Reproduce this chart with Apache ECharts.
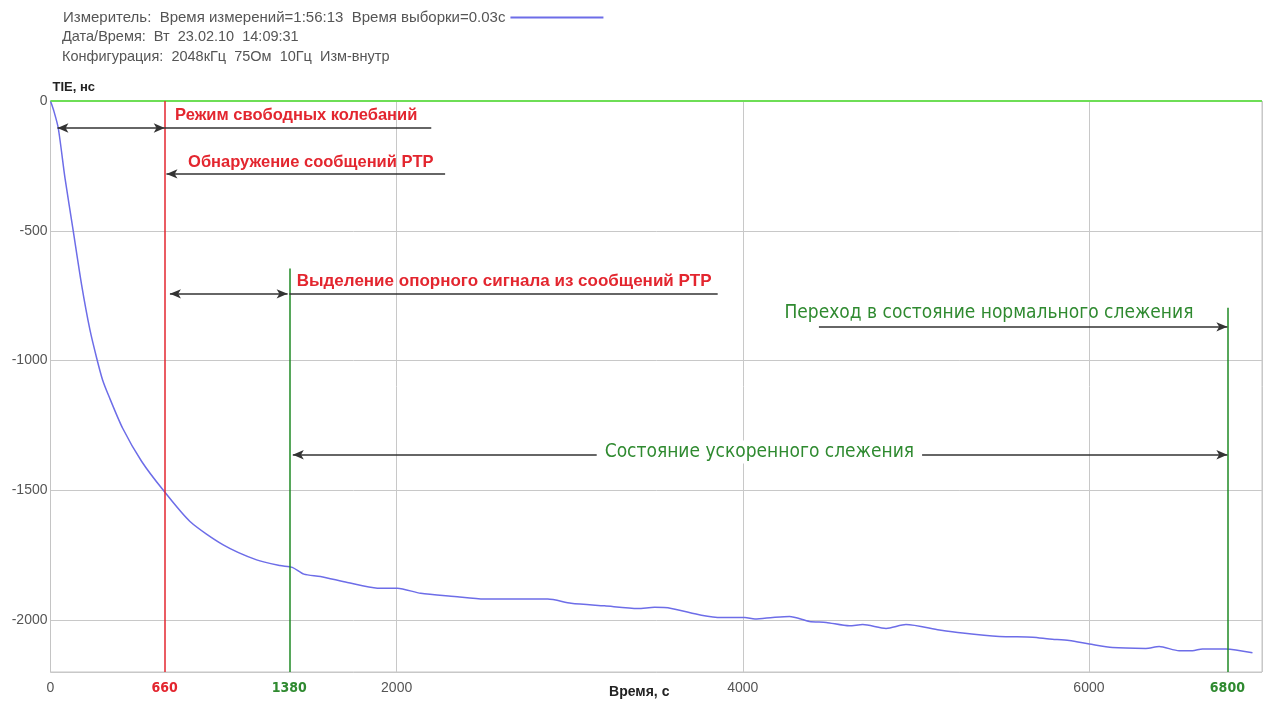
<!DOCTYPE html>
<html>
<head>
<meta charset="utf-8">
<script src="https://cdn.jsdelivr.net/npm/echarts@6/dist/echarts.min.js"></script>
<style>
html,body{margin:0;padding:0;background:#fff;}
#chart{width:1273px;height:704px;}
</style>
</head>
<body>
<div id="chart"></div>
<script>
// ---- data ----
const headerLines = [
  'Дата/Время:  Вт  23.02.10  14:09:31',
  'Конфигурация:  2048кГц  75Ом  10Гц  Изм-внутр'
];
const seriesName = 'Измеритель:  Время измерений=1:56:13  Время выборки=0.03с';
const timeSec = [0, 20, 45, 84, 132, 180, 228, 267, 301, 334, 417, 527, 652, 806, 998, 1191, 1326, 1397, 1464, 1560, 1715, 1889, 2004, 2139, 2333, 2506, 2873, 3008, 3201, 3394, 3490, 3587, 3761, 3877, 4012, 4070, 4173, 4270, 4385, 4482, 4616, 4693, 4828, 4943, 5136, 5270, 5482, 5675, 5771, 5886, 6002, 6136, 6329, 6406, 6521, 6598, 6656, 6791, 6945];
const tieNs = [0, -40, -105, -298, -503, -709, -882, -991, -1075, -1132, -1261, -1389, -1500, -1620, -1710, -1768, -1790, -1797, -1823, -1832, -1855, -1877, -1877, -1897, -1909, -1919, -1919, -1935, -1945, -1955, -1951, -1955, -1981, -1990, -1990, -1996, -1990, -1986, -2005, -2009, -2022, -2017, -2032, -2017, -2038, -2050, -2063, -2066, -2073, -2079, -2092, -2106, -2109, -2102, -2118, -2118, -2111, -2111, -2126];
const xTickLabels = [0, 660, 1380, 2000, 4000, 6000, 6800];
const redMarks = [660];
const greenMarks = [1380, 6800];
const greenMarkTops = [-645, -797];
const annotationTexts = ['Режим свободных колебаний', 'Обнаружение сообщений PTP', 'Выделение опорного сигнала из сообщений PTP', 'Переход в состояние нормального слежения', 'Состояние ускоренного слежения'];
const annotationPos = [[720, -54], [795, -235], [1423, -693], [4241, -817], [4096, -1352]];
const arrowLevels = [-104, -281, -743, -870, -1363];

// ---- chart ----
const chart = echarts.init(document.getElementById('chart'), null, {renderer: 'canvas'});
const RED = '#e3262f', GREEN = '#2f8a30', GREEN_LINE = '#1f8a24', GRAY_TXT = '#555';
const FONT = "'Liberation Sans', Arial, sans-serif";
const NARROW = "'DejaVu Sans Condensed', 'Liberation Sans', sans-serif";
const lineStyleArrow = {color: '#333', width: 1.5, type: 'solid'};

function seg(x1, y1, x2, y2, s1, s2, style) {
  return [
    {coord: [x1, y1], symbol: s1, lineStyle: style || lineStyleArrow},
    {coord: [x2, y2], symbol: s2}
  ];
}

const markLines = [
  [{coord: [0, 0], symbol: 'none', lineStyle: {color: '#6ede56', width: 2, type: 'solid'}}, {coord: [7000, 0], symbol: 'none'}],
  [{coord: [redMarks[0], 0], symbol: 'none', lineStyle: {color: RED, width: 1.5, type: 'solid'}}, {coord: [redMarks[0], -2200], symbol: 'none'}],
  [{coord: [greenMarks[0], greenMarkTops[0]], symbol: 'none', lineStyle: {color: GREEN_LINE, width: 1.5, type: 'solid'}}, {coord: [greenMarks[0], -2200], symbol: 'none'}],
  [{coord: [greenMarks[1], greenMarkTops[1]], symbol: 'none', lineStyle: {color: GREEN_LINE, width: 1.5, type: 'solid'}}, {coord: [greenMarks[1], -2200], symbol: 'none'}],
  seg(40, arrowLevels[0], redMarks[0], arrowLevels[0], 'arrow', 'arrow'),
  seg(redMarks[0], arrowLevels[0], 2200, arrowLevels[0], 'none', 'none'),
  seg(redMarks[0] + 10, arrowLevels[1], 2280, arrowLevels[1], 'arrow', 'none'),
  seg(redMarks[0] + 30, arrowLevels[2], greenMarks[0] - 10, arrowLevels[2], 'arrow', 'arrow'),
  seg(greenMarks[0], arrowLevels[2], 3855, arrowLevels[2], 'none', 'none'),
  seg(4440, arrowLevels[3], greenMarks[1], arrowLevels[3], 'none', 'arrow'),
  seg(greenMarks[0] + 20, arrowLevels[4], greenMarks[1], arrowLevels[4], 'arrow', 'arrow')
];

const redSizes = [16.5, 16.5, 17];
const markPoints = annotationTexts.map((t, i) => {
  const red = i < 3;
  const centered = i === 4;
  return {
    coord: annotationPos[i],
    symbol: 'circle',
    symbolSize: 0,
    label: {
      show: true,
      formatter: t,
      position: centered ? 'inside' : 'right',
      distance: 0,
      color: red ? RED : GREEN,
      fontFamily: red ? FONT : NARROW,
      fontWeight: red ? 'bold' : 'normal',
      fontSize: red ? redSizes[i] : 19,
      backgroundColor: centered ? '#fff' : 'transparent',
      padding: centered ? [2, 8] : 0
    }
  };
});

const option = {
  animation: false,
  backgroundColor: '#fff',
  textStyle: {fontFamily: FONT},
  legend: {
    left: 58, top: 5,
    align: 'right',
    icon: 'rect', itemWidth: 93, itemHeight: 2, itemGap: 8,
    textStyle: {color: GRAY_TXT, fontSize: 15, fontFamily: FONT},
    data: [seriesName]
  },
  graphic: headerLines.map((t, i) => ({
    type: 'text', left: 62, top: 29 + i * 20,
    style: {text: t, fill: GRAY_TXT, font: "14.5px 'Liberation Sans', Arial, sans-serif"}
  })),
  grid: {left: 50.5, right: 11, top: 101, bottom: 32, show: true, borderColor: '#c4c4c4', borderWidth: 1, containLabel: false, outerBoundsMode: 'none'},
  xAxis: {
    type: 'value', min: 0, max: 7000, interval: 2000,
    name: 'Время, с', nameLocation: 'middle', nameGap: 13, nameMoveOverlap: false,
    nameTextStyle: {fontWeight: 'bold', fontSize: 14, color: '#222', padding: [0, 34, 0, 0]},
    axisLine: {show: true, lineStyle: {color: '#c4c4c4'}},
    axisTick: {show: false},
    splitLine: {show: true, lineStyle: {color: '#c8c8c8', width: 1}},
    axisLabel: {
      customValues: xTickLabels,
      margin: 9, fontSize: 14, color: GRAY_TXT,
      formatter: function (v) {
        if (redMarks.indexOf(v) >= 0) return '{r|' + v + '}';
        if (greenMarks.indexOf(v) >= 0) return '{g|' + v + '}';
        return String(v);
      },
      rich: {
        r: {color: RED, fontWeight: 'bold', fontSize: 14, fontFamily: NARROW},
        g: {color: GREEN, fontWeight: 'bold', fontSize: 14, fontFamily: NARROW}
      }
    }
  },
  yAxis: {
    type: 'value', min: -2200, max: 0,
    name: 'TIE, нс', nameLocation: 'end', nameGap: 6,
    nameTextStyle: {align: 'left', fontWeight: 'bold', fontSize: 13, color: '#222', padding: [0, 0, 0, 2]},
    axisLine: {show: true, lineStyle: {color: '#c4c4c4'}},
    axisTick: {show: false},
    splitLine: {show: true, lineStyle: {color: '#c8c8c8', width: 1}},
    axisLabel: {
      margin: 3, fontSize: 14, color: GRAY_TXT,
      formatter: function (v) { return v % 500 === 0 ? String(v) : ''; }
    }
  },
  series: [{
    name: seriesName,
    type: 'line',
    data: timeSec.map((t, i) => [t, tieNs[i]]),
    showSymbol: false,
    symbol: 'none',
    smooth: 0.25,
    lineStyle: {color: '#6d6de8', width: 1.5},
    itemStyle: {color: '#6d6de8'},
    markLine: {silent: true, label: {show: false}, symbolSize: [7, 11], data: markLines},
    markPoint: {silent: true, data: markPoints}
  }]
};
chart.setOption(option);
</script>
</body>
</html>
